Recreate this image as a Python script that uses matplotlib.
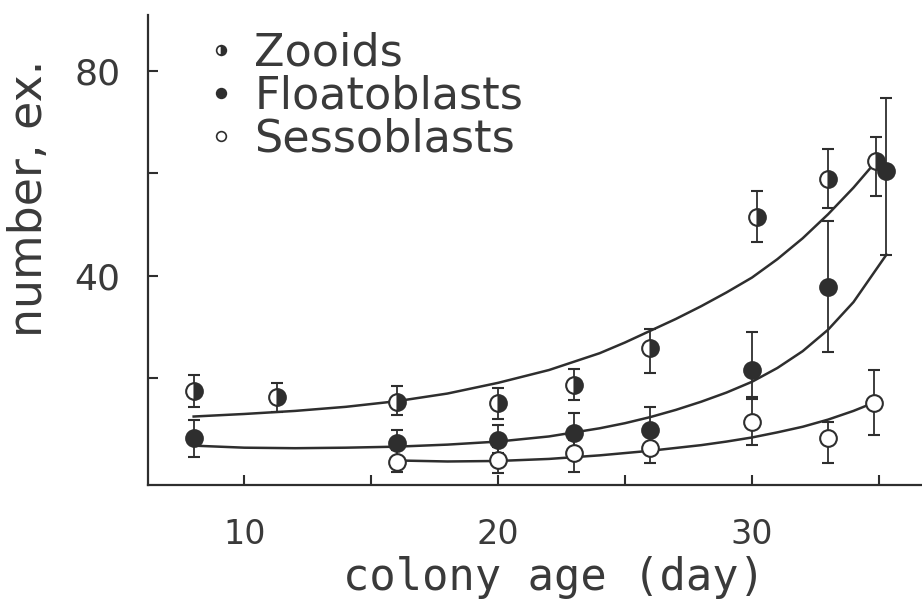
import matplotlib
matplotlib.use("Agg")
import matplotlib.pyplot as plt
from matplotlib.lines import Line2D

# ---- data ----
zooid_days = [8, 11.3, 16, 20, 23, 26, 30.2, 33, 34.9]
zooid_mean = [17.3, 16.3, 15.3, 15.1, 18.6, 25.9, 51.4, 58.8, 62.4]
zooid_lo = [14.3, 13.3, 12.7, 12.0, 15.7, 21.0, 46.5, 53.3, 55.5]
zooid_hi = [20.6, 19.0, 18.4, 18.0, 21.8, 29.6, 56.5, 64.7, 67.1]

float_days = [8, 16, 20, 23, 26, 30, 33, 35.3]
float_mean = [8.2, 7.3, 7.8, 9.2, 9.8, 21.6, 37.8, 60.4]
float_lo = [4.5, 3.9, 5.3, 5.3, 5.9, 16.3, 25.1, 44.1]
float_hi = [11.8, 9.8, 10.8, 13.1, 14.3, 29.0, 50.6, 74.7]

sesso_days = [16, 20, 23, 26, 30, 33, 34.8]
sesso_mean = [3.5, 3.9, 5.3, 6.3, 11.4, 8.2, 15.1]
sesso_lo = [1.6, 1.4, 1.6, 3.3, 6.9, 3.3, 8.8]
sesso_hi = [5.9, 6.5, 7.8, 9.2, 15.8, 11.4, 21.6]

# fitted curves
zooid_curve_days = [8, 10, 12, 14, 16, 18, 20, 22, 24, 25, 26, 27, 28, 29, 30, 31, 32, 33, 34, 34.9]
zooid_curve = [12.4, 12.9, 13.5, 14.3, 15.4, 16.9, 19.0, 21.5, 24.8, 26.9, 29.2, 31.5,
               34.0, 36.7, 39.6, 43.2, 47.3, 52.0, 57.2, 62.4]
float_curve_days = [8, 10, 12, 14, 16, 18, 20, 22, 24, 25, 26, 27, 28, 29, 30, 31, 32, 33, 34, 35.3]
float_curve = [6.7, 6.3, 6.2, 6.3, 6.5, 6.9, 7.5, 8.5, 10.1, 11.1, 12.3, 13.7,
               15.3, 17.1, 19.2, 21.9, 25.2, 29.4, 34.8, 44.1]
sesso_curve_days = [16, 18, 20, 22, 24, 26, 28, 29, 30, 31, 32, 33, 34, 34.8]
sesso_curve = [3.8, 3.6, 3.7, 4.1, 4.8, 5.7, 6.8, 7.5, 8.3, 9.3, 10.4, 11.8, 13.5, 15.1]

x_ticks = [10, 15, 20, 25, 30, 35]
x_ticklabels = ["10", "", "20", "", "30", ""]
y_ticks = [20, 40, 60, 80]
y_ticklabels = ["", "40", "", "80"]

INK = "#2e2e2e"
TXT = "#3a3a3a"

plt.rcParams["font.family"] = ["DejaVu Sans"]

fig = plt.figure(figsize=(9.22, 6.0), dpi=100)
ax = fig.add_axes([0.1605, 0.1917, 0.8395, 0.7833])

# curves
ax.plot(zooid_curve_days, zooid_curve, color=INK, lw=1.8, zorder=2)
ax.plot(float_curve_days, float_curve, color=INK, lw=1.8, zorder=2)
ax.plot(sesso_curve_days, sesso_curve, color=INK, lw=1.8, zorder=2)


def err(mean, lo, hi):
    return [[m - l for m, l in zip(mean, lo)], [h - m for m, h in zip(mean, hi)]]


common = dict(ls="none", ecolor=INK, elinewidth=1.3, capsize=4.5, capthick=1.3,
              markersize=12, markeredgewidth=1.5, markeredgecolor=INK, zorder=3)

ax.errorbar(sesso_days, sesso_mean, yerr=err(sesso_mean, sesso_lo, sesso_hi),
            marker="o", markerfacecolor="white", **common)
ax.errorbar(float_days, float_mean, yerr=err(float_mean, float_lo, float_hi),
            marker="o", markerfacecolor=INK, **common)
ax.errorbar(zooid_days, zooid_mean, yerr=err(zooid_mean, zooid_lo, zooid_hi),
            marker="o", fillstyle="right", markerfacecolor=INK,
            markerfacecoloralt="white", **common)

ax.set_xlim(6.2, 36.7)
ax.set_ylim(-1, 91)

ax.spines["top"].set_visible(False)
ax.spines["right"].set_visible(False)
for s in ("left", "bottom"):
    ax.spines[s].set_color(INK)
    ax.spines[s].set_linewidth(1.6)

ax.set_xticks(x_ticks, labels=x_ticklabels)
ax.set_yticks(y_ticks, labels=y_ticklabels)
ax.tick_params(axis="both", direction="in", length=7, width=1.5, color=INK,
               labelcolor=TXT)
ax.tick_params(axis="x", labelsize=24, pad=24)
ax.tick_params(axis="y", labelsize=26, pad=20)

ax.set_xlabel("colony age (day)", fontsize=31.5, color=TXT,
              family=["DejaVu Sans Mono"])
ax.xaxis.set_label_coords(0.525, -0.152)
ax.set_ylabel("number, ex.", fontsize=33, color=TXT)
ax.yaxis.set_label_coords(-0.124, 0.61)

handles = [
    Line2D([], [], ls="none", marker="o", fillstyle="right", markerfacecolor=INK,
           markerfacecoloralt="white", markeredgecolor=INK, markersize=7, markeredgewidth=1.2),
    Line2D([], [], ls="none", marker="o", markerfacecolor=INK, markeredgecolor=INK,
           markersize=7, markeredgewidth=1.2),
    Line2D([], [], ls="none", marker="o", markerfacecolor="white", markeredgecolor=INK,
           markersize=7, markeredgewidth=1.2),
]
leg = ax.legend(handles, ["Zooids", "Floatoblasts", "Sessoblasts"],
                loc="upper left", bbox_to_anchor=(0.08, 0.965), frameon=False,
                fontsize=32, handlelength=0.5, handletextpad=0.5,
                labelspacing=0.0, borderpad=0, borderaxespad=0)
for t in leg.get_texts():
    t.set_color(TXT)

fig.savefig("out.png", dpi=100, facecolor="white")
